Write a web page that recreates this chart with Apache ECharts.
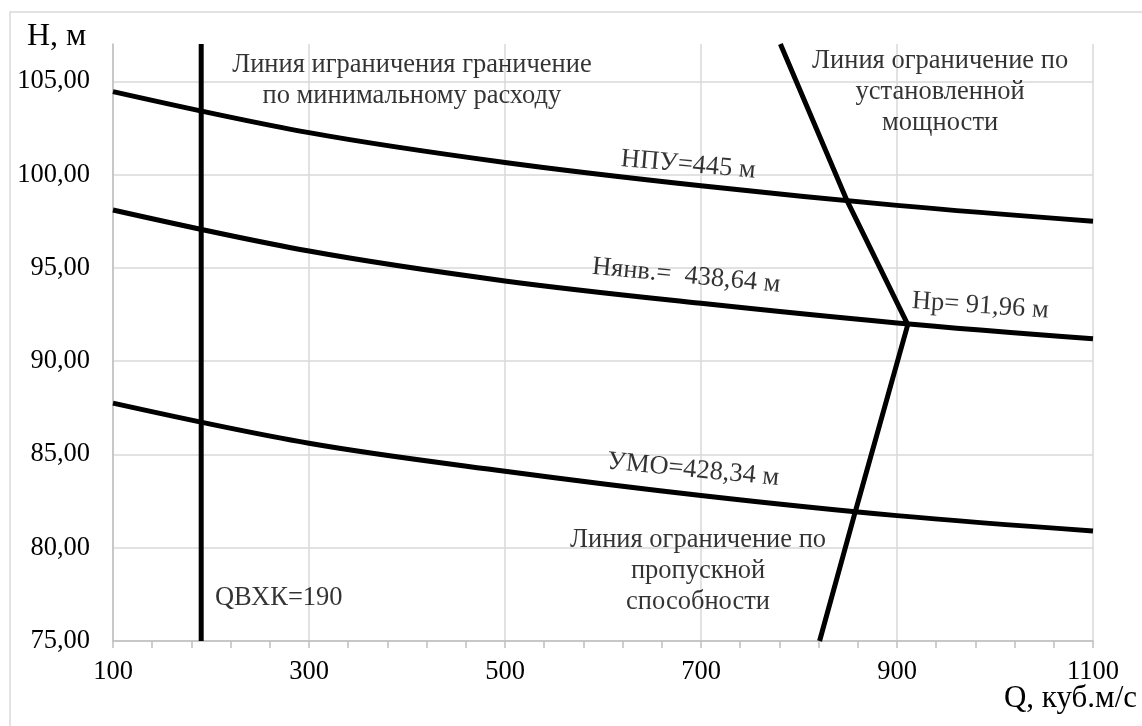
<!DOCTYPE html>
<html>
<head>
<meta charset="utf-8">
<script src="https://cdn.jsdelivr.net/npm/echarts@6/dist/echarts.min.js"></script>
<style>
  html, body { margin: 0; padding: 0; background: #fff; }
  #chart { width: 1142px; height: 726px; }
</style>
</head>
<body>
<div id="chart"></div>
<script>
// Discharge Q (m3/s) where the head curves are sampled
const flowQ = [100, 300, 500, 700, 900, 1100];
// Head H (m) at normal pool level, January level and dead storage level
const headNPU = [104.45, 102.25, 100.65, 99.4, 98.35, 97.5];
const headJan = [98.1, 95.9, 94.3, 93.1, 92.05, 91.2];
const headUMO = [87.75, 85.6, 84.1, 82.8, 81.72, 80.9];

// Minimum discharge limit
const qMin = 190;
const qMinLine = [[qMin, 75], [qMin, 107]];
// Installed capacity limit (upper branch) and throughput limit (lower branch)
const hRated = 91.96;
const qRated = 911;
const capacityLine = [[781, 107], [849, 98.6], [qRated, hRated]];
const throughputLine = [[qRated, hRated], [857, 81.85], [821, 75]];

// Axis settings
const xTicks = { min: 100, max: 1100, interval: 200 };
const yTicks = { min: 75, max: 107, interval: 5 };

// Text notes: anchor [Q, H], text, rotation
const notes = [
  { at: [405, 105.05], text: 'Линия играничения граничение\nпо минимальному расходу', rotate: 0, align: 'center' },
  { at: [944, 104.45], text: 'Линия ограничение по\nустановленной\nмощности', rotate: 0, align: 'center' },
  { at: [697, 78.75], text: 'Линия ограничение по\nпропускной\nспособности', rotate: 0, align: 'center' },
  { at: [687, 100.52], text: 'НПУ=445 м', rotate: -5, align: 'center' },
  { at: [685, 94.57], text: 'Hянв.=  438,64 м', rotate: -5.5, align: 'center' },
  { at: [985, 92.96], text: 'Hp= 91,96 м', rotate: -4, align: 'center' },
  { at: [692, 84.17], text: 'УМО=428,34 м', rotate: -5.5, align: 'center' },
  { at: [204, 77.3], text: 'QВХК=190', rotate: 0, align: 'left' }
];

const FONT = "'Liberation Serif', 'Times New Roman', serif";
const zip = (xs, ys) => xs.map((x, i) => [x, ys[i]]);

const curveStyle = { color: '#000', width: 5 };
const lineSeries = (name, data, smooth) => ({
  name, type: 'line', data, smooth, showSymbol: false, symbol: 'none',
  lineStyle: curveStyle, itemStyle: { color: '#000' }, z: 3
});

const chart = echarts.init(document.getElementById('chart'));
chart.setOption({
  animation: false,
  backgroundColor: '#fff',
  textStyle: { fontFamily: FONT, color: '#000' },
  grid: { left: 113, right: 49, top: 44, bottom: 85, containLabel: false },
  graphic: [
    { type: 'rect', shape: { x: 10, y: 12, width: 1150, height: 730 }, style: { fill: 'none', stroke: '#d9d9d9', lineWidth: 1.5 }, silent: true, z: -10 },
    { type: 'text', left: 27, top: 21, style: { text: 'H, м', font: '32px ' + FONT, fill: '#000' } },
    { type: 'text', right: 5, top: 683, style: { text: 'Q, куб.м/с', font: '31px ' + FONT, fill: '#000' } }
  ],
  xAxis: {
    type: 'value',
    min: xTicks.min, max: xTicks.max, interval: xTicks.interval,
    axisLine: { show: true, lineStyle: { color: '#bfbfbf', width: 1.5 } },
    axisTick: { show: true, length: 7, lineStyle: { color: '#bfbfbf', width: 1.5 } },
    minorTick: { show: true, splitNumber: 5, length: 7, lineStyle: { color: '#bfbfbf', width: 1.5 } },
    splitLine: { show: true, lineStyle: { color: '#d9d9d9', width: 1.5 } },
    axisLabel: { fontSize: 26.5, fontFamily: FONT, color: '#000', margin: 18, formatter: v => String(v) }
  },
  yAxis: {
    type: 'value',
    min: yTicks.min, max: yTicks.max, interval: yTicks.interval,
    axisLine: { show: true, lineStyle: { color: '#bfbfbf', width: 1.5 } },
    axisTick: { show: false },
    splitLine: { show: true, showMaxLine: false, lineStyle: { color: '#d9d9d9', width: 1.5 } },
    axisLabel: {
      fontSize: 26.5, fontFamily: FONT, color: '#000', margin: 23, showMaxLabel: false,
      formatter: v => (v % 5 === 0 ? v.toFixed(2).replace('.', ',') : '')
    }
  },
  series: [
    lineSeries('НПУ', zip(flowQ, headNPU), 0.35),
    lineSeries('Hянв', zip(flowQ, headJan), 0.35),
    lineSeries('УМО', zip(flowQ, headUMO), 0.35),
    lineSeries('Qmin', qMinLine, false),
    lineSeries('N уст', capacityLine, false),
    lineSeries('Q проп', throughputLine, false),
    {
      name: 'notes', type: 'scatter', symbolSize: 0, z: 5, silent: true,
      data: notes.map(n => ({
        value: n.at,
        label: {
          show: true,
          formatter: n.text,
          position: n.align === 'left' ? 'right' : 'inside',
          distance: 0,
          rotate: n.rotate,
          align: n.align,
          verticalAlign: 'middle',
          fontSize: 26.5,
          lineHeight: 31,
          fontFamily: FONT,
          color: '#000'
        }
      }))
    }
  ]
});
</script>
</body>
</html>
